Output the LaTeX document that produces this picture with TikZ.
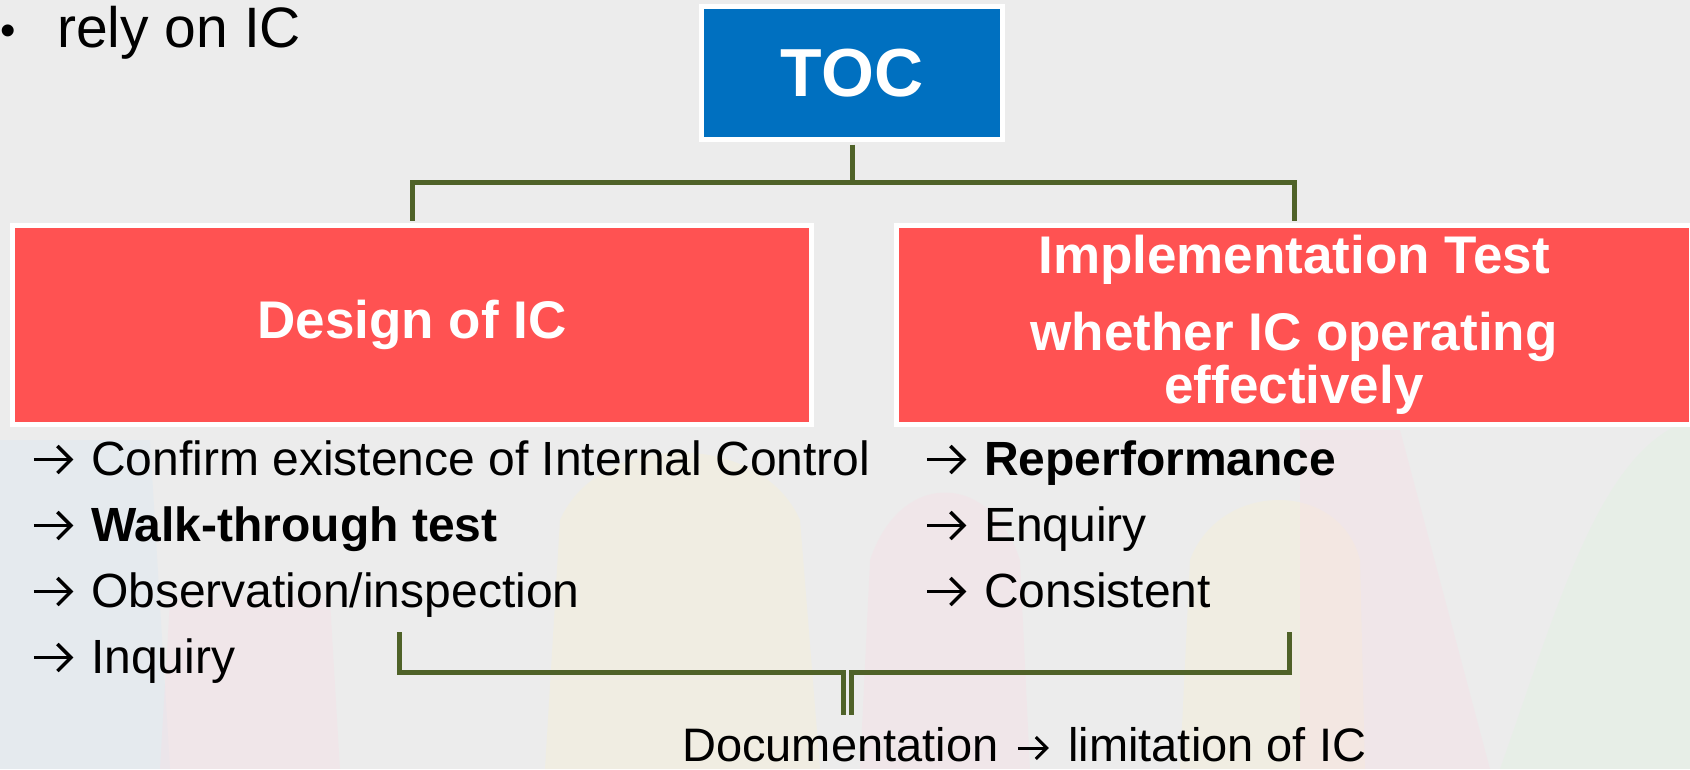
\documentclass[tikz,border=0pt]{standalone}
\usepackage{fontspec}
\setmainfont{Liberation Sans}
\definecolor{bg}{RGB}{236,236,236}
\definecolor{tocblue}{RGB}{0,112,192}
\definecolor{boxred}{RGB}{255,82,82}
\definecolor{lineg}{RGB}{79,98,40}
\definecolor{pblue}{RGB}{215,232,245}
\definecolor{ppink}{RGB}{250,218,228}
\definecolor{pyellow}{RGB}{250,242,205}
\definecolor{pgreen}{RGB}{220,245,220}
% open chevron arrow as drawn in the slide
\newcommand{\arrglyph}[3]{\tikz[x=1pt,y=1pt,baseline=0pt]{%
  \draw[black,line width=#3pt,line cap=butt] (0,#2/2+2) -- (#1,#2/2+2);
  \draw[black,line width=#3pt,line join=miter] (#1-#2/2,#2+2) -- (#1,#2/2+2) -- (#1-#2/2,2);}}
\newcommand{\arr}{\makebox[59pt][l]{\arrglyph{37}{27}{3.4}}}
\tikzset{
  tocbox/.style={fill=tocblue, draw=white, line width=5pt, text=white, inner sep=0pt,
    font=\fontsize{68}{68}\selectfont\bfseries},
  redbox/.style={fill=boxred, draw=white, line width=5pt, text=white, inner sep=0pt,
    align=center, font=\fontsize{53}{53}\selectfont\bfseries},
  conn/.style={draw=lineg, line width=5pt, line join=miter},
  item/.style={anchor=base west, inner sep=0pt, font=\fontsize{48}{48}\selectfont},
  pastel/.style={opacity=0.3}
}
\begin{document}
\begin{tikzpicture}[x=1pt,y=-1pt]
\useasboundingbox (0,0) rectangle (1690,769);
\fill[bg] (0,0) rectangle (1690,769);
% faint background shapes
\fill[pblue,pastel] (0,440) -- (150,440) -- (170,769) -- (0,769) -- cycle;
\fill[ppink,pastel] (170,600) -- (330,600) -- (340,769) -- (160,769) -- cycle;
\fill[pyellow,pastel] (545,769) -- (560,520) .. controls (600,430) and (760,430) .. (800,520) -- (820,769) -- cycle;
\fill[ppink,pastel] (860,769) -- (870,560) .. controls (900,470) and (990,470) .. (1020,560) -- (1030,769) -- cycle;
\fill[pyellow,pastel] (1180,769) -- (1190,560) .. controls (1220,480) and (1340,480) .. (1360,560) -- (1365,769) -- cycle;
\fill[ppink,pastel] (1300,769) -- (1300,430) -- (1400,430) -- (1490,769) -- cycle;
\fill[pgreen,pastel] (1500,769) .. controls (1560,600) and (1600,450) .. (1690,420) -- (1690,769) -- cycle;

% top-left bullet text
\node[anchor=base west, inner sep=0pt, font=\fontsize{44}{44}\selectfont] (bul) at (0,45) {•};
\node[anchor=base west, inner sep=0pt, font=\fontsize{57}{57}\selectfont] (rely) at (57,47) {rely on IC};

% boxes
\node[tocbox, minimum width=301pt, minimum height=133pt] (toc) at (852,73) {TOC};
\node[redbox, minimum width=799pt, minimum height=199pt] (design) at (412,325) {Design of IC};
\node[redbox, minimum width=795pt, minimum height=199pt] (impl) at (1294,325)
  {Implementation Test\\[24pt]whether IC operating\\effectively};

% connectors
\coordinate (hub) at (852,182);
\draw[conn] ([yshift=-2.5pt]toc.south) -- (hub);
\draw[conn] ([yshift=2.5pt]design.north) |- (hub) -| ([yshift=2.5pt]impl.north);

% left list
\node[item] (l1) at (32,475) {\arr Confirm existence of Internal Control};
\node[item] (l2) at (32,541) {\arr \textbf{Walk-through test}};
\node[item] (l3) at (32,607) {\arr Observation/inspection};
\node[item] (l4) at (32,673) {\arr Inquiry};

% right list
\node[item] (r1) at (925,475) {\arr \textbf{Reperformance}};
\node[item] (r2) at (925,541) {\arr Enquiry};
\node[item] (r3) at (925,607) {\arr Consistent};

% bottom bracket
\coordinate (bL) at (399,632);
\coordinate (bLm) at (843,715);
\coordinate (bR) at (1289,632);
\coordinate (bRm) at (851,715);
\draw[conn] (bL) -- ++(0,40) -| (bLm);
\draw[conn] (bR) -- ++(0,40) -| (bRm);

\node[anchor=base west, inner sep=0pt, font=\fontsize{47}{47}\selectfont] (doc) at (682,761)
  {Documentation\hspace{18pt}\arrglyph{29}{22}{3}\hspace{20pt}limitation of IC};
\end{tikzpicture}
\end{document}
